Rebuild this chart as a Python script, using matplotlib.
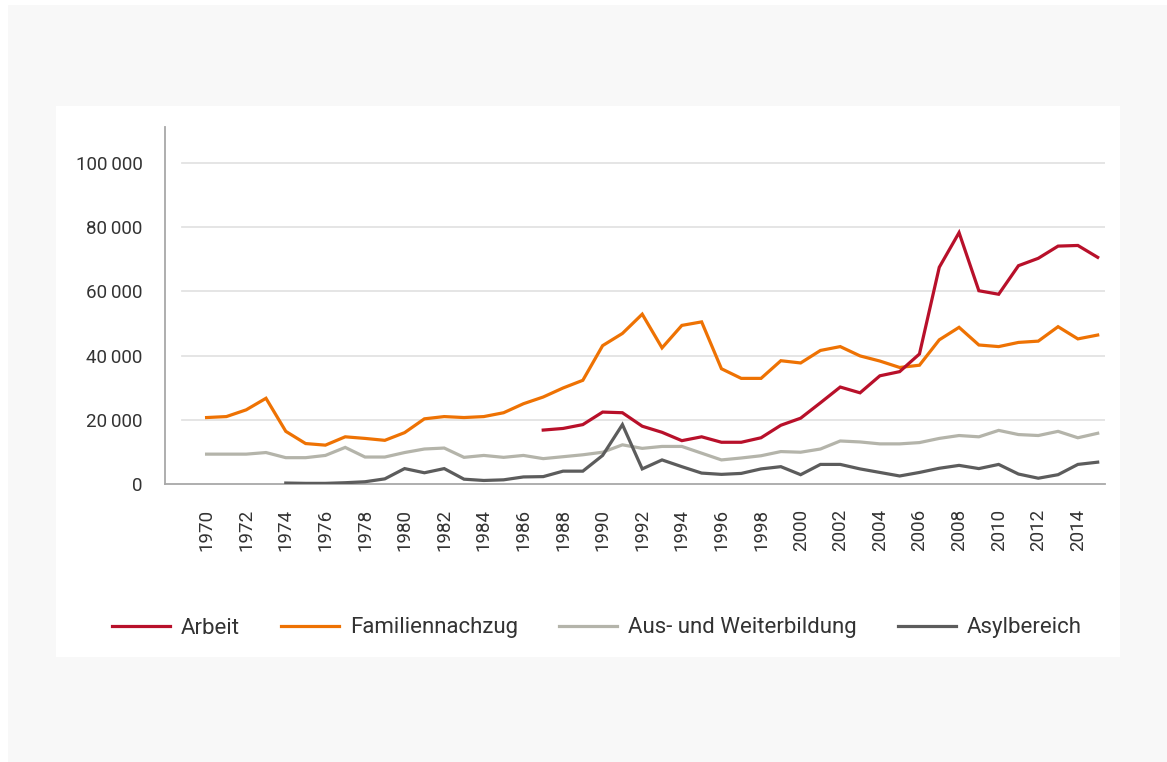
import numpy as np
import matplotlib
matplotlib.use("Agg")
import matplotlib.pyplot as plt
from matplotlib.patches import Rectangle

plt.rcParams['font.family'] = ['Roboto', 'DejaVu Sans']

nan = np.nan
years = list(range(1970, 2016))

arbeit = [nan] * 17 + [
    16800, 17300, 18500,
    22400, 22200, 18000, 16100, 13500, 14700, 13000, 13000, 14400, 18300,
    20500, 25300, 30200, 28400, 33700, 35000, 40500, 67500, 78300, 60200,
    59100, 68000, 70300, 74100, 74300, 70600]

familie = [
    20700, 21000, 23100, 26700, 16400, 12600, 12100, 14700, 14200, 13600,
    16000, 20300, 21000, 20700, 21000, 22200, 25000, 27100, 29900, 32300,
    43100, 46900, 52900, 42400, 49400, 50500, 35900, 32900, 32900, 38400,
    37700, 41600, 42800, 39900, 38300, 36300, 37000, 44900, 48800, 43300,
    42800, 44100, 44500, 49000, 45200, 46400]

ausbildung = [
    9300, 9300, 9300, 9800, 8200, 8200, 8900, 11400, 8400, 8400,
    9800, 10900, 11200, 8300, 8900, 8300, 8900, 7900, 8500, 9100,
    9900, 12200, 11100, 11700, 11700, 9600, 7500, 8100, 8800, 10100,
    9900, 10900, 13400, 13100, 12500, 12500, 12900, 14200, 15100, 14700,
    16700, 15400, 15100, 16400, 14400, 15800]

asyl = [nan] * 4 + [
    300, 200, 200, 400, 700, 1600,
    4800, 3500, 4800, 1500, 1100, 1300, 2200, 2300, 4000, 4000,
    8900, 18500, 4700, 7500, 5400, 3400, 3000, 3300, 4700, 5400,
    2900, 6100, 6100, 4700, 3600, 2500, 3600, 4900, 5800, 4800,
    6100, 3100, 1800, 2900, 6100, 6800]

labels = ["Arbeit", "Familiennachzug", "Aus- und Weiterbildung", "Asylbereich"]
colors = ["#b8102a", "#ee7203", "#b4b4aa", "#5c5c5c"]
yticks = [0, 20000, 40000, 60000, 80000, 100000]

W, H = 1167, 762
fig = plt.figure(figsize=(W / 100, H / 100), dpi=100, facecolor="white")

# grey backdrop and white card
fig.patches.append(Rectangle((8 / W, 0), 1 - 8 / W, 1 - 5 / H, transform=fig.transFigure,
                             facecolor="#f8f8f8", edgecolor="none", zorder=-2))
fig.patches.append(Rectangle((56 / W, 1 - 657 / H), (1120 - 56) / W, (657 - 106) / H,
                             transform=fig.transFigure, facecolor="white",
                             edgecolor="none", zorder=-1))

ax = fig.add_axes([165 / W, 1 - 484 / H, (1105 - 165) / W, (484 - 127) / H])
ax.set_facecolor("none")
ax.set_zorder(2)

series = [arbeit, familie, ausbildung, asyl]
zorders = [5, 4, 2, 3]
for vals, lab, col, z in zip(series, labels, colors, zorders):
    ax.plot(years, vals, color=col, lw=2.3, label=lab, zorder=z,
            solid_joinstyle="miter")

ax.set_xlim(1967.9, 2015.37)
ax.set_ylim(0, 111200)

# gridlines start a bit right of the spine
for v in yticks[1:]:
    ax.axhline(v, xmin=0.018, xmax=1, color="#e3e3e3", lw=1.3, zorder=1)

for s in ["top", "right"]:
    ax.spines[s].set_visible(False)
ax.spines["left"].set_color("#a8a8a8")
ax.spines["bottom"].set_color("#a8a8a8")
ax.spines["left"].set_linewidth(1.3)
ax.spines["bottom"].set_linewidth(1.3)

ax.set_yticks(yticks)
ax.set_yticklabels([f"{v:,}".replace(",", "\u2009") for v in yticks])
ax.set_xticks(years[::2])
ax.set_xticklabels([str(y) for y in years[::2]], rotation=90)
ax.tick_params(axis="y", length=0, pad=16, labelsize=13.5, labelcolor="#333333")
ax.tick_params(axis="x", length=0, pad=18, labelsize=13.5, labelcolor="#333333")

leg = fig.legend(loc="center", bbox_to_anchor=(597 / W, 1 - 628 / H), ncol=4,
                 frameon=False, fontsize=16, handlelength=2.6, handletextpad=0.5,
                 columnspacing=1.85, labelcolor="#333333")
leg.set_zorder(3)

fig.savefig("out.png", dpi=100, facecolor="white")
